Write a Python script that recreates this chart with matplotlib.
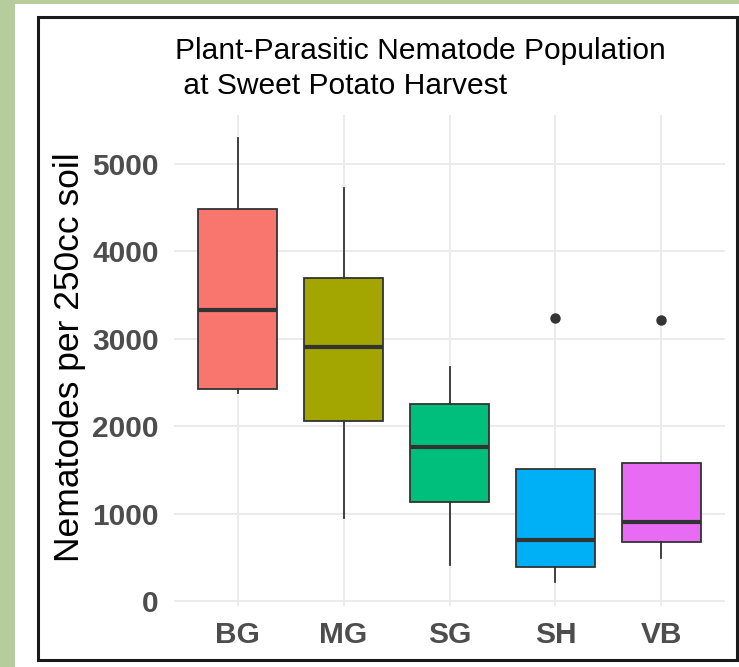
import matplotlib.pyplot as plt
from matplotlib.patches import Rectangle

plt.rcParams['font.family'] = ['Liberation Sans', 'DejaVu Sans']

groups = ["BG", "MG", "SG", "SH", "VB"]
box_colors = ["#F8766D", "#A3A500", "#00BF7D", "#00B0F6", "#E76BF3"]

whisker_low = [2380, 950, 410, 220, 490]
q1 = [2425, 2060, 1130, 385, 680]
medians = [3325, 2900, 1760, 700, 905]
q3 = [4485, 3695, 2250, 1505, 1575]
whisker_high = [5295, 4725, 2675, 1505, 1575]
outliers = [[], [], [], [3230], [3210]]

yticks = [0, 1000, 2000, 3000, 4000, 5000]

W, H = 739, 667
fig = plt.figure(figsize=(W / 100, H / 100), dpi=100)
fig.patch.set_facecolor("#b7cc9c")

# white card and black frame behind the plot
fig.add_artist(Rectangle((15 / W, 0), 1, 1 - 4 / H, transform=fig.transFigure,
                         facecolor="white", edgecolor="none", zorder=-2))
fig.add_artist(Rectangle((38 / W, 1 - 660 / H), (737 - 38) / W, (660 - 17) / H,
                         transform=fig.transFigure, facecolor="none",
                         edgecolor="#1a1a1a", linewidth=2.2, zorder=-1))

ax = fig.add_axes([174 / W, 1 - 606 / H, 551 / W, 491 / H])
ax.set_facecolor("white")
ax.patch.set_alpha(0)

stats = []
for i, g in enumerate(groups):
    stats.append(dict(label=g, whislo=whisker_low[i], q1=q1[i], med=medians[i],
                      q3=q3[i], whishi=whisker_high[i], fliers=outliers[i]))

bp = ax.bxp(stats, positions=range(1, 6), widths=0.75, patch_artist=True,
            showcaps=False,
            boxprops=dict(edgecolor="#333333", linewidth=1.3),
            medianprops=dict(color="#333333", linewidth=3),
            whiskerprops=dict(color="#333333", linewidth=1.3),
            flierprops=dict(marker="o", markerfacecolor="#333333",
                            markeredgecolor="#333333", markersize=6.5))
for patch, c in zip(bp["boxes"], box_colors):
    patch.set_facecolor(c)

ax.set_xlim(0.4, 5.6)
ax.set_ylim(-55, 5555)
ax.set_yticks(yticks)
ax.set_yticklabels([str(v) for v in yticks])
ax.grid(True, color="#ebebeb", linewidth=1.4)
ax.set_axisbelow(True)
for s in ax.spines.values():
    s.set_visible(False)
ax.tick_params(length=0, labelsize=21.5, labelcolor="#4d4d4d")
ax.tick_params(axis="y", pad=11)
ax.tick_params(axis="x", pad=11)
for lab in ax.get_xticklabels() + ax.get_yticklabels():
    lab.set_fontweight("bold")

fig.text(70 / W, 1 - 357 / H, "Nematodes per 250cc soil", fontsize=25.5,
         color="black", rotation=90, ha="center", va="center")

fig.text(175 / W, 1 - 37 / H, "Plant-Parasitic Nematode Population\n at Sweet Potato Harvest",
         fontsize=21.6, color="black", ha="left", va="top", linespacing=1.3)

fig.savefig("out.png", dpi=100)
